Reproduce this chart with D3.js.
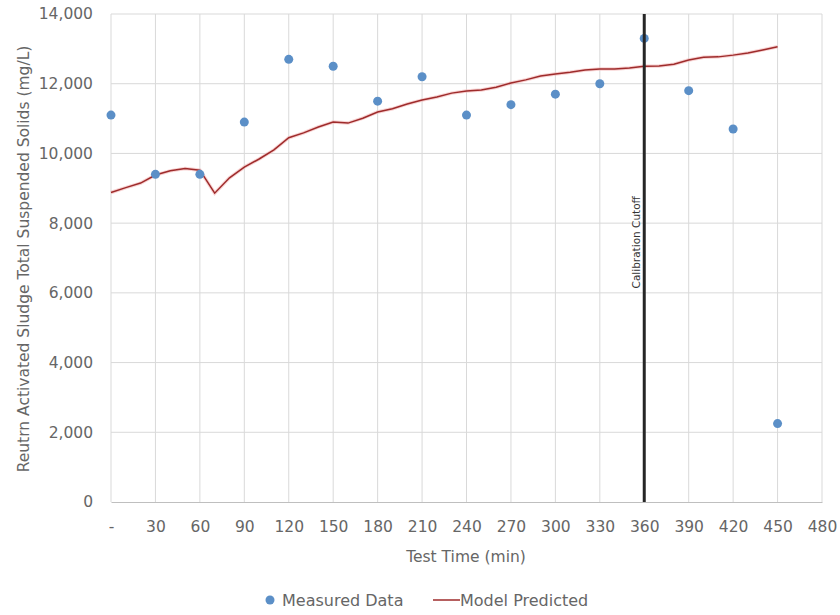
<!DOCTYPE html>
<html>
<head>
<meta charset="utf-8">
<script src="https://cdn.jsdelivr.net/npm/d3@7"></script>
<style>
  body { margin: 0; background: #fff; }
  text { font-family: "DejaVu Sans", sans-serif; fill: #666; }
</style>
</head>
<body>
<svg id="chart" width="840" height="615"></svg>
<script>
// measured TSS (mg/L) at each test time
var measuredTime = [0, 30, 60, 90, 120, 150, 180, 210, 240, 270, 300, 330, 360, 390, 420, 450];
var measuredTSS = [11100, 9400, 9400, 10900, 12700, 12500, 11500, 12200, 11100, 11400, 11700, 12000, 13300, 11800, 10700, 2250];

// model prediction, every 10 min
var modelTime = [0, 10, 20, 30, 40, 50, 60, 70, 80, 90, 100, 110, 120, 130, 140, 150, 160, 170, 180, 190, 200, 210, 220,
                 230, 240, 250, 260, 270, 280, 290, 300, 310, 320, 330, 340, 350, 360, 370, 380, 390, 400, 410, 420, 430, 440, 450];
var modelTSS = [8880, 9020, 9150, 9380, 9500, 9570, 9520, 8860, 9300, 9610, 9840, 10100, 10450, 10590, 10760, 10900, 10870, 11010, 11190, 11280,
                11420, 11530, 11620, 11730, 11790, 11820, 11900, 12020, 12110, 12220, 12280, 12330, 12390, 12420, 12420, 12450,
                12500, 12510, 12560, 12680, 12760, 12770, 12820, 12880, 12970, 13060];

var xTicks = d3.range(0, 481, 30);
var yTicks = d3.range(0, 14001, 2000);
var cutoffTime = 360;

var svg = d3.select("#chart"),
    margin = {top: 14, right: 18, bottom: 113, left: 111},
    width = 840 - margin.left - margin.right,
    height = 615 - margin.top - margin.bottom,
    g = svg.append("g").attr("transform", "translate(" + margin.left + "," + margin.top + ")");

var x = d3.scaleLinear().domain([0, 480]).range([0, width]);
var y = d3.scaleLinear().domain([0, 14000]).range([height, 0]);

// gridlines
g.append("g").selectAll("line").data(yTicks.slice(1)).enter().append("line")
    .attr("x1", 0).attr("x2", width)
    .attr("y1", function(d) { return y(d); }).attr("y2", function(d) { return y(d); })
    .attr("stroke", "#d9d9d9").attr("stroke-width", 1);
g.append("g").selectAll("line").data(xTicks).enter().append("line")
    .attr("x1", function(d) { return x(d); }).attr("x2", function(d) { return x(d); })
    .attr("y1", 0).attr("y2", height)
    .attr("stroke", "#d9d9d9").attr("stroke-width", 1);

// axes
var xAxis = g.append("g")
    .attr("transform", "translate(0," + height + ")")
    .call(d3.axisBottom(x).tickValues(xTicks).tickSize(0).tickPadding(19)
        .tickFormat(function(d) { return d === 0 ? "-" : d; }));
xAxis.select(".domain").attr("stroke", "#bfbfbf");
xAxis.selectAll("text").style("font-size", "15.5px").style("fill", "#666")
    .style("font-family", "'DejaVu Sans', sans-serif");

var yAxis = g.append("g")
    .call(d3.axisLeft(y).tickValues(yTicks).tickSize(0).tickPadding(18).tickFormat(d3.format(",")));
yAxis.select(".domain").remove();
yAxis.selectAll("text").style("font-size", "15.5px").style("fill", "#666")
    .style("font-family", "'DejaVu Sans', sans-serif");

// model line
var line = d3.line()
    .x(function(d, i) { return x(modelTime[i]); })
    .y(function(d) { return y(d); });
g.append("path").datum(modelTSS)
    .attr("d", line)
    .attr("fill", "none")
    .attr("stroke", "#f4b6b6")
    .attr("stroke-width", 3.5)
    .attr("opacity", 0.6);
g.append("path").datum(modelTSS)
    .attr("d", line)
    .attr("fill", "none")
    .attr("stroke", "#9e2b2b")
    .attr("stroke-width", 1.5);

// measured points
g.selectAll(".pt").data(measuredTSS).enter().append("circle")
    .attr("class", "pt")
    .attr("cx", function(d, i) { return x(measuredTime[i]); })
    .attr("cy", function(d) { return y(d); })
    .attr("r", 4.5)
    .attr("fill", "#5b8fc7");

// calibration cutoff
g.append("line")
    .attr("x1", x(cutoffTime)).attr("x2", x(cutoffTime))
    .attr("y1", 0).attr("y2", height)
    .attr("stroke", "#262626").attr("stroke-width", 3);
g.append("text")
    .attr("transform", "translate(" + (x(cutoffTime) - 4) + "," + y(7450) + ") rotate(-90)")
    .attr("text-anchor", "middle")
    .style("font-size", "10.5px")
    .style("fill", "#333")
    .text("Calibration Cutoff");

// axis titles
svg.append("text")
    .attr("x", 466)
    .attr("y", 562)
    .attr("text-anchor", "middle")
    .style("font-size", "15.5px")
    .text("Test Time (min)");
svg.append("text")
    .attr("transform", "translate(29,259) rotate(-90)")
    .attr("text-anchor", "middle")
    .style("font-size", "15.5px")
    .text("Reutrn Activated Sludge Total Suspended Solids (mg/L)");

// legend
var legend = svg.append("g").attr("transform", "translate(0,600)");
legend.append("circle").attr("cx", 270).attr("cy", 0).attr("r", 4.5).attr("fill", "#5b8fc7");
legend.append("text").attr("x", 282).attr("y", 6).style("font-size", "16px").text("Measured Data");
legend.append("line").attr("x1", 433).attr("x2", 460).attr("y1", 0).attr("y2", 0)
    .attr("stroke", "#9e2b2b").attr("stroke-width", 1.5);
legend.append("text").attr("x", 460).attr("y", 6).style("font-size", "16px").text("Model Predicted");
</script>
</body>
</html>
